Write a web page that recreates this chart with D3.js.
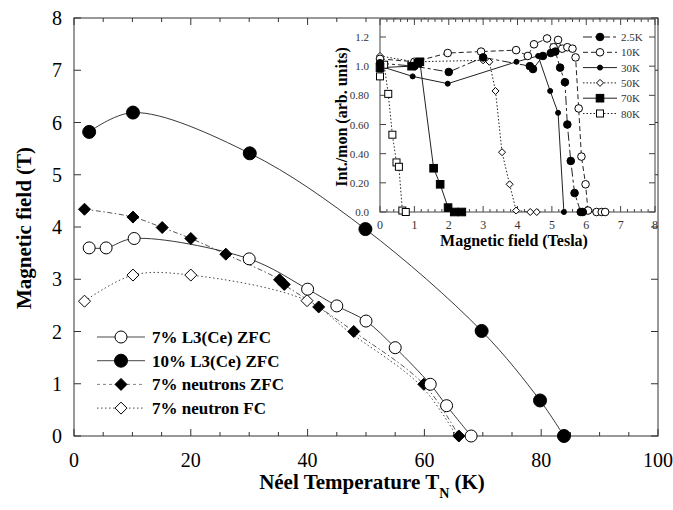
<!DOCTYPE html>
<html>
<head>
<meta charset="utf-8">
<script src="https://cdn.jsdelivr.net/npm/d3@7"></script>
<style>
  body { margin: 0; background: #fff; }
  svg { display: block; font-family: "Liberation Serif", "Times New Roman", serif; }
</style>
</head>
<body>
<svg id="chart"></svg>
<script>
const width = 673;
const height = 510;

// ---- main plot data (Néel temperature vs field) ----
const l3_7T  = [2.6, 5.5, 10.3, 30, 40, 45, 50, 55, 61, 63.8, 68];
const l3_7H  = [3.6, 3.6, 3.78, 3.39, 2.81, 2.49, 2.2, 1.69, 0.99, 0.58, 0];
const l3_10T = [2.6, 10.1, 30.1, 49.9, 69.8, 79.8, 83.9];
const l3_10H = [5.82, 6.19, 5.41, 3.96, 2.01, 0.68, 0];
const nZfcT  = [1.8, 10.1, 15.1, 20, 26, 35.2, 36, 41.9, 47.9, 59.9, 65.9];
const nZfcH  = [4.34, 4.19, 3.99, 3.78, 3.48, 2.99, 2.9, 2.47, 2.0, 0.99, 0];
const nFcT   = [1.8, 10.1, 20, 39.9];
const nFcH   = [2.58, 3.08, 3.08, 2.59];
// dotted FC curve continues below the last FC marker
const nFcCurveT = [1.8, 10.1, 20, 39.9, 47, 59.5, 65.5];
const nFcCurveH = [2.58, 3.08, 3.08, 2.59, 2.0, 0.95, 0];

const mainXTicks = [0, 20, 40, 60, 80, 100];
const mainYTicks = [0, 1, 2, 3, 4, 5, 6, 7, 8];
const legendLabels = ["7% L3(Ce) ZFC", "10% L3(Ce) ZFC", "7% neutrons ZFC", "7% neutron FC"];

// ---- inset data (intensity vs field) ----
const k2_5B = [0, 1.0, 2.0, 3.0, 4.36, 4.45, 4.74, 4.97, 5.1, 5.24, 5.38, 5.45, 5.55, 5.66, 5.84, 5.9];
const k2_5I = [1.02, 1.0, 0.96, 1.06, 1.0, 0.98, 1.07, 1.09, 1.1, 0.99, 0.89, 0.6, 0.35, 0.13, 0, 0];
const k10B  = [0, 1.0, 1.97, 2.94, 3.96, 4.3, 4.48, 4.86, 5.05, 5.18, 5.3, 5.45, 5.6, 5.69, 5.78, 5.86, 5.98, 6.05, 6.3, 6.45, 6.55];
const k10I  = [1.05, 1.03, 1.09, 1.1, 1.11, 1.07, 1.15, 1.19, 1.13, 1.18, 1.12, 1.13, 1.12, 1.06, 0.71, 0.38, 0.19, 0.01, 0, 0, 0];
const k30B  = [0, 0.95, 1.97, 3.97, 4.6, 4.95, 5.18, 5.35];
const k30I  = [1.0, 0.93, 0.88, 1.03, 1.07, 0.83, 0.68, 0];
const k50B  = [0, 1.0, 3.0, 3.18, 3.36, 3.55, 3.77, 3.96, 4.37, 4.56];
const k50I  = [1.07, 1.03, 1.04, 1.03, 0.83, 0.41, 0.19, 0.01, 0, 0];
const k70B  = [0, 0.92, 1.1, 1.16, 1.56, 1.75, 1.98, 2.16, 2.38];
const k70I  = [0.99, 1.0, 1.02, 1.03, 0.30, 0.19, 0.03, 0, 0];
const k80B  = [0, 0.12, 0.24, 0.36, 0.48, 0.55, 0.65, 0.75];
const k80I  = [0.93, 1.01, 0.81, 0.53, 0.34, 0.31, 0.01, 0];

const insetXTicks = [0, 1, 2, 3, 4, 5, 6, 7, 8];
const insetYTicks = [0, 0.2, 0.4, 0.6, 0.8, 1.0, 1.2];
const insetYLabels = ["0.0", "0.20", "0.40", "0.60", "0.80", "1.0", "1.2"];
const insetLegend = ["2.5K", "10K", "30K", "50K", "70K", "80K"];

const zip = (a, b) => a.map((v, i) => [v, b[i]]);

const svg = d3.select("#chart")
  .attr("width", width)
  .attr("height", height)
  .attr("viewBox", [0, 0, width, height]);

// marker drawing helper
function marker(g, type, cx, cy, s) {
  if (type === "circleOpen" || type === "circleFilled") {
    g.append("circle").attr("cx", cx).attr("cy", cy).attr("r", s)
      .attr("fill", type === "circleOpen" ? "#fff" : "#000")
      .attr("stroke", "#000").attr("stroke-width", 1);
  } else if (type === "diamondOpen" || type === "diamondFilled") {
    g.append("path")
      .attr("d", `M${cx},${cy - s}L${cx + s},${cy}L${cx},${cy + s}L${cx - s},${cy}Z`)
      .attr("fill", type === "diamondOpen" ? "#fff" : "#000")
      .attr("stroke", "#000").attr("stroke-width", 1);
  } else {
    g.append("rect").attr("x", cx - s).attr("y", cy - s)
      .attr("width", 2 * s).attr("height", 2 * s)
      .attr("fill", type === "squareOpen" ? "#fff" : "#000")
      .attr("stroke", "#000").attr("stroke-width", 1);
  }
}

// ************************ MAIN PLOT ************************
const x = d3.scaleLinear([0, 100], [74, 658]);
const y = d3.scaleLinear([0, 8], [436, 18]);

const main = svg.append("g");

// frame
main.append("rect")
  .attr("x", x(0)).attr("y", y(8))
  .attr("width", x(100) - x(0)).attr("height", y(0) - y(8))
  .attr("fill", "none").attr("stroke", "#333").attr("stroke-width", 1);

// ticks inside, all four sides
const minorX = d3.range(0, 101, 5);
main.append("g").selectAll("line").data(minorX).join("line")
  .attr("x1", d => x(d)).attr("x2", d => x(d))
  .attr("y1", y(0)).attr("y2", d => y(0) - (d % 20 === 0 ? 7 : 4))
  .attr("stroke", "#333");
main.append("g").selectAll("line").data(minorX).join("line")
  .attr("x1", d => x(d)).attr("x2", d => x(d))
  .attr("y1", y(8)).attr("y2", d => y(8) + (d % 20 === 0 ? 7 : 4))
  .attr("stroke", "#333");
main.append("g").selectAll("line").data(mainYTicks).join("line")
  .attr("x1", x(0)).attr("x2", x(0) + 7)
  .attr("y1", d => y(d)).attr("y2", d => y(d))
  .attr("stroke", "#333");
main.append("g").selectAll("line").data(mainYTicks).join("line")
  .attr("x1", x(100)).attr("x2", x(100) - 7)
  .attr("y1", d => y(d)).attr("y2", d => y(d))
  .attr("stroke", "#333");

// tick labels
main.append("g").selectAll("text").data(mainXTicks).join("text")
  .attr("x", d => x(d)).attr("y", 467)
  .attr("text-anchor", "middle")
  .style("font-size", "20px")
  .text(d => d);
main.append("g").selectAll("text").data(mainYTicks).join("text")
  .attr("x", 62).attr("y", d => y(d) + 7)
  .attr("text-anchor", "end")
  .style("font-size", "20px")
  .text(d => d);

// axis titles
main.append("text")
  .attr("transform", "translate(31,228) rotate(-90)")
  .attr("text-anchor", "middle")
  .style("font-size", "21px").style("font-weight", "bold")
  .text("Magnetic field (T)");

const xt = main.append("text")
  .attr("x", 372).attr("y", 489)
  .attr("text-anchor", "middle")
  .style("font-size", "21px").style("font-weight", "bold");
xt.append("tspan").text("Néel Temperature T");
xt.append("tspan").attr("dy", 9).style("font-size", "14px").text("N");
xt.append("tspan").attr("dy", -9).text(" (K)");

// curves
const smooth = d3.line().x(d => x(d[0])).y(d => y(d[1])).curve(d3.curveCatmullRom.alpha(0.5));
const curves = [
  { pts: zip(nFcCurveT, nFcCurveH), dash: "1.5,2.5", color: "#333" },
  { pts: zip(nZfcT, nZfcH), dash: "5,2.5,1.5,2.5", color: "#444" },
  { pts: zip(l3_7T, l3_7H), dash: null, color: "#222" },
  { pts: zip(l3_10T, l3_10H), dash: null, color: "#222" }
];
curves.forEach(c => {
  main.append("path")
    .attr("d", smooth(c.pts))
    .attr("fill", "none")
    .attr("stroke", c.color)
    .attr("stroke-width", 0.9)
    .attr("stroke-dasharray", c.dash);
});

// markers
const markersG = main.append("g");
zip(nFcT, nFcH).forEach(d => marker(markersG, "diamondOpen", x(d[0]), y(d[1]), 6));
zip(nZfcT, nZfcH).forEach(d => marker(markersG, "diamondFilled", x(d[0]), y(d[1]), 6));
zip(l3_7T, l3_7H).forEach(d => marker(markersG, "circleOpen", x(d[0]), y(d[1]), 6));
zip(l3_10T, l3_10H).forEach(d => marker(markersG, "circleFilled", x(d[0]), y(d[1]), 6.5));

// legend
const legendStyles = [
  { type: "circleOpen", size: 6, dash: null },
  { type: "circleFilled", size: 6.5, dash: null },
  { type: "diamondFilled", size: 6, dash: "3,3" },
  { type: "diamondOpen", size: 6, dash: "1.5,2.5" }
];
const legend = main.append("g");
legendLabels.forEach((label, i) => {
  const ly = 337 + i * 23.7;
  const st = legendStyles[i];
  legend.append("line")
    .attr("x1", 97).attr("x2", 145).attr("y1", ly).attr("y2", ly)
    .attr("stroke", i === 2 ? "#777" : "#333").attr("stroke-width", 0.9)
    .attr("stroke-dasharray", st.dash);
  marker(legend, st.type, 121, ly, st.size);
  legend.append("text")
    .attr("x", 152).attr("y", ly + 6)
    .style("font-size", "17px").style("font-weight", "bold")
    .text(label);
});

// ************************ INSET ************************
const ix = d3.scaleLinear([0, 8], [380, 655]);
const iy = d3.scaleLinear([0, 1.2], [212, 37]);
const inset = svg.append("g");

inset.append("rect")
  .attr("x", ix(0)).attr("y", 19)
  .attr("width", ix(8) - ix(0)).attr("height", iy(0) - 19)
  .attr("fill", "#fff").attr("stroke", "#444").attr("stroke-width", 1);

const iMinor = d3.range(0, 40.5, 1).map(d => d / 5);
inset.append("g").selectAll("line").data(iMinor).join("line")
  .attr("x1", d => ix(d)).attr("x2", d => ix(d))
  .attr("y1", iy(0)).attr("y2", (d, i) => iy(0) - (i % 5 === 0 ? 6 : 3))
  .attr("stroke", "#444");
inset.append("g").selectAll("line").data(iMinor).join("line")
  .attr("x1", d => ix(d)).attr("x2", d => ix(d))
  .attr("y1", 19).attr("y2", (d, i) => 19 + (i % 5 === 0 ? 6 : 3))
  .attr("stroke", "#444");
inset.append("g").selectAll("line").data(insetYTicks).join("line")
  .attr("x1", ix(0)).attr("x2", ix(0) + 6)
  .attr("y1", d => iy(d)).attr("y2", d => iy(d))
  .attr("stroke", "#444");
inset.append("g").selectAll("line").data(insetYTicks).join("line")
  .attr("x1", ix(8)).attr("x2", ix(8) - 6)
  .attr("y1", d => iy(d)).attr("y2", d => iy(d))
  .attr("stroke", "#444");

inset.append("g").selectAll("text").data(insetXTicks).join("text")
  .attr("x", d => ix(d)).attr("y", 229)
  .attr("text-anchor", "middle")
  .attr("fill", "#333")
  .style("font-size", "12px")
  .text(d => d);
inset.append("g").selectAll("text").data(insetYTicks).join("text")
  .attr("x", 369).attr("y", d => iy(d) + 4)
  .attr("text-anchor", "end")
  .attr("fill", "#333")
  .style("font-size", "11px")
  .text((d, i) => insetYLabels[i]);

inset.append("text")
  .attr("x", 514).attr("y", 246)
  .attr("text-anchor", "middle")
  .style("font-size", "16px").style("font-weight", "bold")
  .text("Magnetic field (Tesla)");
inset.append("text")
  .attr("transform", "translate(347,117) rotate(-90)")
  .attr("text-anchor", "middle")
  .style("font-size", "16px").style("font-weight", "bold")
  .text("Int./mon (arb. units)");

const iline = d3.line().x(d => ix(d[0])).y(d => iy(d[1]));
const insetSeries = [
  { pts: zip(k80B, k80I), type: "squareOpen", size: 3.5, dash: "1.5,2" },
  { pts: zip(k50B, k50I), type: "diamondOpen", size: 3.5, dash: "1.5,2" },
  { pts: zip(k10B, k10I), type: "circleOpen", size: 3.8, dash: "5,3" },
  { pts: zip(k2_5B, k2_5I), type: "circleFilled", size: 3.8, dash: "9,3,3,3" },
  { pts: zip(k30B, k30I), type: "circleFilled", size: 2.5, dash: null },
  { pts: zip(k70B, k70I), type: "squareFilled", size: 3.8, dash: null }
];
insetSeries.forEach(s => {
  inset.append("path")
    .attr("d", iline(s.pts))
    .attr("fill", "none")
    .attr("stroke", "#222")
    .attr("stroke-width", 1)
    .attr("stroke-dasharray", s.dash);
});
insetSeries.forEach(s => {
  s.pts.forEach(d => marker(inset, s.type, ix(d[0]), iy(d[1]), s.size));
});

// inset legend (order 2.5K ... 80K)
const legendOrder = [3, 2, 4, 1, 5, 0];
legendOrder.forEach((si, i) => {
  const s = insetSeries[si];
  const ly = 37 + i * 15.3;
  inset.append("line")
    .attr("x1", 583).attr("x2", 617).attr("y1", ly).attr("y2", ly)
    .attr("stroke", "#222").attr("stroke-width", 1)
    .attr("stroke-dasharray", s.dash);
  marker(inset, s.type, 600, ly, s.size);
  inset.append("text")
    .attr("x", 621).attr("y", ly + 4)
    .attr("fill", "#333")
    .style("font-size", "11px")
    .text(insetLegend[i]);
});
</script>
</body>
</html>
